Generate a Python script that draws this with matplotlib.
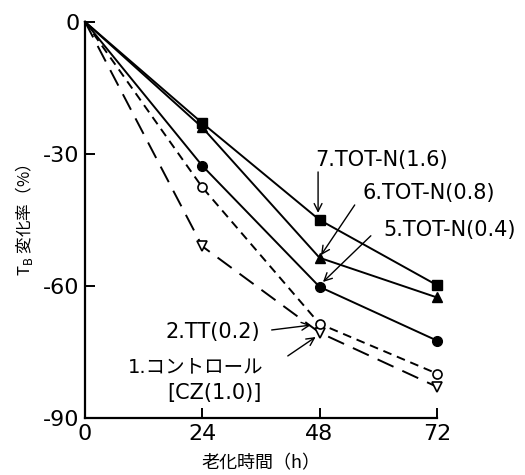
import matplotlib
matplotlib.use("Agg")
import matplotlib.pyplot as plt

plt.rcParams['font.family'] = ['DejaVu Sans', 'Noto Sans CJK JP']

hours = [0, 24, 48, 72]
s1_control = [0, -51, -70.6, -82.9]
s2_tt = [0, -37.6, -68.6, -79.9]
s5_totn04 = [0, -32.7, -60.2, -72.4]
s6_totn08 = [0, -24.0, -53.6, -62.6]
s7_totn16 = [0, -23.0, -45.0, -59.8]

xticks = [0, 24, 48, 72]
yticks = [0, -30, -60, -90]

fig = plt.figure(figsize=(5.25, 4.75), dpi=100)
ax = fig.add_axes([0.162, 0.12, 0.670, 0.834])

lw = 1.4
# series 1: long dashes, open down-triangles
ax.plot(hours, s1_control, color='black', lw=lw, dashes=(9, 5))
ax.plot(hours[1:], s1_control[1:], ls='none', marker='v', ms=6.5,
        mfc='white', mec='black', mew=1.2)
# series 2: short dashes, open circles
ax.plot(hours, s2_tt, color='black', lw=lw, dashes=(4.5, 3))
ax.plot(hours[1:], s2_tt[1:], ls='none', marker='o', ms=6.5,
        mfc='white', mec='black', mew=1.2)
# series 5: solid, filled circles
ax.plot(hours, s5_totn04, color='black', lw=lw)
ax.plot(hours[1:], s5_totn04[1:], ls='none', marker='o', ms=7,
        mfc='black', mec='black')
# series 6: solid, filled triangles
ax.plot(hours, s6_totn08, color='black', lw=lw)
ax.plot(hours[1:], s6_totn08[1:], ls='none', marker='^', ms=7,
        mfc='black', mec='black')
# series 7: solid, filled squares
ax.plot(hours, s7_totn16, color='black', lw=lw)
ax.plot(hours[1:], s7_totn16[1:], ls='none', marker='s', ms=6.5,
        mfc='black', mec='black')

ax.set_xlim(0, 72)
ax.set_ylim(-90, 0)
ax.set_xticks(xticks)
ax.set_yticks(yticks)
ax.set_xticklabels([str(v) for v in xticks])
ax.set_yticklabels([str(v) for v in yticks])
for s in ['top', 'right']:
    ax.spines[s].set_visible(False)
for s in ['left', 'bottom']:
    ax.spines[s].set_linewidth(1.6)
ax.tick_params(direction='in', length=7, width=1.4, labelsize=16, pad=4)
for ln in ax.lines:
    ln.set_clip_on(False)

ax.set_xlabel('老化時間（h）', fontsize=13, family=['Noto Sans CJK JP'], labelpad=8)
ax.set_ylabel('T$_\\mathrm{B}$ 変化率（%）', fontsize=12,
              family=['Noto Sans CJK JP', 'DejaVu Sans'], labelpad=6)

fs = 15
ax.text(60.7, -31.4, '7.TOT-N(1.6)', fontsize=fs, ha='center', va='center')
ax.text(70.4, -38.9, '6.TOT-N(0.8)', fontsize=fs, ha='center', va='center')
ax.text(74.7, -47.3, '5.TOT-N(0.4)', fontsize=fs, ha='center', va='center')
ax.text(16.4, -70.5, '2.TT(0.2)', fontsize=fs, ha='left', va='center')
ax.text(8.8, -78.4, '1.コントロール', fontsize=14, ha='left', va='center',
        family=['DejaVu Sans', 'Noto Sans CJK JP'])
ax.text(16.8, -84.3, '[CZ(1.0)]', fontsize=fs, ha='left', va='center')

arrow = dict(arrowstyle='->', color='black', lw=1.0, mutation_scale=14,
             shrinkA=0, shrinkB=0)
ax.annotate('', xy=(47.7, -43.4), xytext=(47.7, -34.1), arrowprops=arrow)
ax.annotate('', xy=(48.3, -53.0), xytext=(55.2, -41.6), arrowprops=arrow)
ax.annotate('', xy=(48.7, -59.1), xytext=(58.5, -48.6), arrowprops=arrow)
ax.annotate('', xy=(46.2, -68.9), xytext=(38.2, -70.0), arrowprops=arrow)
ax.annotate('', xy=(47.2, -71.6), xytext=(41.5, -75.9), arrowprops=arrow)

fig.savefig('out.png', dpi=100)
